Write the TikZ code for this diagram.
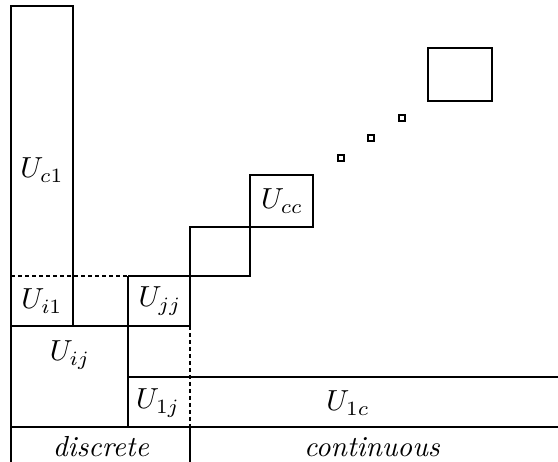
\documentclass[tikz,border=0pt]{standalone}
\usepackage{graphicx}
\newcommand{\sclabel}[1]{\scalebox{2.9}{#1}}
\begin{document}
\begin{tikzpicture}[x=1pt,y=-1pt,line width=1.2pt,
  lbl/.style={inner sep=0pt},
  dsh/.style={dash pattern=on 4pt off 3pt},
  tiny/.style={line width=1.6pt}]
\useasboundingbox (0,0) rectangle (558,462);
% U_c1 column
\draw (11,462) -- (11,6) -- (73,6) -- (73,326);
\draw[dsh] (11,276) -- (128,276);
% staircase
\draw (128,276) -- (250,276) -- (250,175) -- (313,175) -- (313,227) -- (190,227) -- (190,326);
\draw (11,326) -- (190,326);
\draw (128,276) -- (128,427);
\draw (128,377) -- (558,377);
\draw (11,427) -- (558,427);
\draw[dsh] (190,326) -- (190,427);
\draw (190,427) -- (190,462);
% upper right blocks
\draw[tiny] (428,48) rectangle (492,101);
\draw[tiny] (399,115) rectangle (405,121);
\draw[tiny] (368,135) rectangle (374,141);
\draw[tiny] (338,155) rectangle (344,161);
% labels
\node[lbl] (uc1) at (42,170) {\sclabel{$U_{c1}$}};
\node[lbl] (ui1) at (42,301) {\sclabel{$U_{i1}$}};
\node[lbl] (ujj) at (160,301) {\sclabel{$U_{jj}$}};
\node[lbl] (uij) at (70,355) {\sclabel{$U_{ij}$}};
\node[lbl] (u1j) at (158,403) {\sclabel{$U_{1j}$}};
\node[lbl] (u1c) at (348,403) {\sclabel{$U_{1c}$}};
\node[lbl] (ucc) at (282,201) {\sclabel{$U_{cc}$}};
\node[lbl] (disc) at (101,447) {\sclabel{\textit{discrete}}};
\node[lbl] (cont) at (372,447) {\sclabel{\textit{continuous}}};
\end{tikzpicture}
\end{document}
